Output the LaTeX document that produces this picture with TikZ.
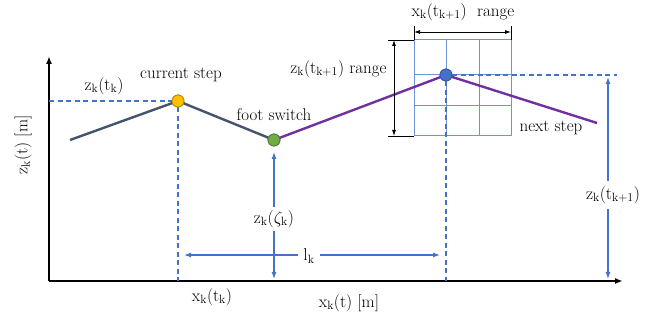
\documentclass[tikz,border=0pt]{standalone}
\usetikzlibrary{arrows.meta}
\definecolor{slate}{HTML}{44546A}
\definecolor{purp}{HTML}{7030A0}
\definecolor{bl}{HTML}{4472C4}
\definecolor{gridbl}{HTML}{6F93D6}
\definecolor{yel}{HTML}{FFC000}
\definecolor{grn}{HTML}{70AD47}
\begin{document}
\begin{tikzpicture}[x=1pt,y=-1pt,font=\fontsize{17}{19}\selectfont,
  axisline/.style={black,line width=1.6pt,-{Latex[length=8pt,width=6pt]}},
  grayline/.style={slate,line width=2.4pt},
  purpline/.style={purp,line width=2.4pt},
  guide/.style={bl,line width=1.1pt,dash pattern=on 5pt off 3.5pt},
  barrow/.style={bl,line width=1.2pt,{Latex[length=7pt,width=5pt]}-{Latex[length=7pt,width=5pt]}},
  karrow/.style={black,line width=0.8pt,{Latex[length=6pt,width=4pt]}-{Latex[length=6pt,width=4pt]}},
  kline/.style={black,line width=0.8pt},
  gridline/.style={gridbl,line width=1pt},
  pt/.style={circle,draw,line width=0.8pt,minimum size=12pt,inner sep=0pt},
  lab/.style={fill=white,inner sep=1pt}]
\useasboundingbox (0,0) rectangle (662,320);
% axes
\coordinate (O) at (49,281);
\coordinate (ytop) at (49,56);
\coordinate (xend) at (623,281);
\draw[axisline] (O) -- (ytop);
\draw[axisline] (O) -- (xend);
\node[rotate=90] (ylab) at (23,145) {$\mathrm{z_k(t)}$ [m]};
\node (xlab) at (349,303) {$\mathrm{x_k(t)}$ [m]};
% grid
\foreach \xx in {414,446,479,511} \draw[gridline] (\xx,40) -- (\xx,136);
\foreach \yy in {40,75,106,136} \draw[gridline] (414,\yy) -- (511,\yy);
% points
\node[pt,fill=yel,draw=yel!70!black] (cur) at (178,101) {};
\node[pt,fill=grn,draw=grn!70!black] (fs) at (274,140) {};
\node[pt,fill=bl,draw=bl!80!black] (nxt) at (446,75) {};
\coordinate (s0) at (70,140);
\coordinate (e1) at (597,123);
% dashed guides
\coordinate (yz) at (49,101);
\coordinate (xz) at (178,281);
\coordinate (xn) at (446,281);
\coordinate (rz) at (617,75);
\draw[guide] (yz) -- (cur.west);
\draw[guide] (cur.south) -- (xz);
\draw[guide] (nxt.south) -- (xn);
\draw[guide] (nxt.east) -- (rz);
% trajectory
\draw[grayline] (s0) -- (cur.center) -- (fs.center);
\draw[purpline] (fs.center) -- (nxt.center) -- (e1);
\node[pt,fill=yel,draw=yel!70!black] at (cur) {};
\node[pt,fill=grn,draw=grn!70!black] at (fs) {};
\node[pt,fill=bl,draw=bl!80!black] at (nxt) {};
% labels
\node (zt) at (104,86) {$\mathrm{z_k(t_k)}$};
\node (cs) at (181,75) {current step};
\node (fsl) at (274,115) {foot switch};
\node (ns) at (551,128) {next step};
\node (xt) at (212,297) {$\mathrm{x_k(t_k)}$};
% z(zeta) arrow
\coordinate (zb) at (274,279);
\coordinate (zt2) at (274,152);
\draw[barrow] (zb) -- (zt2);
\node[lab,inner ysep=3pt] (zzeta) at (274,219) {$\mathrm{z_k(}\zeta_{\mathrm{k}}\mathrm{)}$};
% l_k
\coordinate (la) at (184,255);
\coordinate (lb) at (440,255);
\draw[barrow] (la) -- (lb);
\node[lab,inner xsep=5pt] (lk) at (309,256) {$\mathrm{l_k}$};
% z(t_{k+1}) arrow
\coordinate (ra) at (608,77);
\coordinate (rb) at (608,279);
\draw[barrow] (ra) -- (rb);
\node[lab,inner ysep=5pt] (zk1) at (613,195) {$\mathrm{z_k(t_{k+1})}$};
% x range
\coordinate (xr1) at (414,32);
\coordinate (xr2) at (511,32);
\draw[kline] (414,26) -- (414,40);
\draw[kline] (511,26) -- (511,40);
\draw[karrow] (xr1) -- (xr2);
\node (xrl) at (463,12) {$\mathrm{x_k(t_{k+1})}$~ range};
% z range
\coordinate (zr1) at (394,40);
\coordinate (zr2) at (394,136);
\draw[kline] (388,40) -- (414,40);
\draw[kline] (388,136) -- (414,136);
\draw[karrow] (zr1) -- (zr2);
\node[anchor=east] (zrl) at (390,69) {$\mathrm{z_k(t_{k+1})}$ range};
\end{tikzpicture}
\end{document}
